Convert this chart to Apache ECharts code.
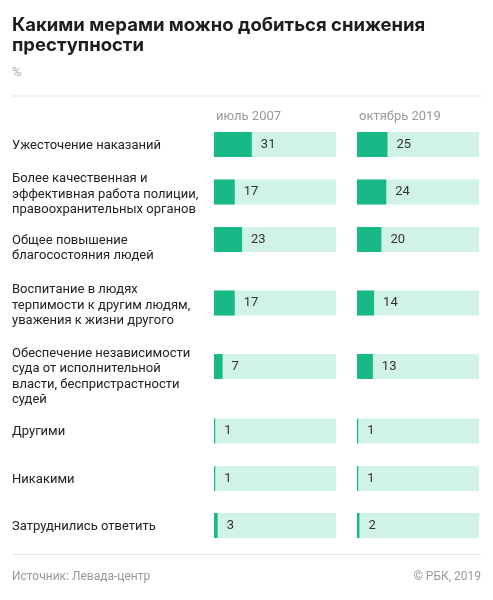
<!DOCTYPE html>
<html>
<head>
<meta charset="utf-8">
<script src="https://cdn.jsdelivr.net/npm/echarts@6/dist/echarts.min.js"></script>
<style>
  html, body { margin: 0; padding: 0; background: #fff; }
  #chart { width: 493px; height: 600px; }
</style>
</head>
<body>
<div id="chart"></div>
<script>
// data
var title = 'Какими мерами можно добиться снижения\nпреступности';
var unit = '%';
var periods = ['июль 2007', 'октябрь 2019'];
var categories = [
    'Ужесточение наказаний',
    'Более качественная и\nэффективная работа полиции,\nправоохранительных органов',
    'Общее повышение\nблагосостояния людей',
    'Воспитание в людях\nтерпимости к другим людям,\nуважения к жизни другого',
    'Обеспечение независимости\nсуда от исполнительной\nвласти, беспристрастности\nсудей',
    'Другими',
    'Никакими',
    'Затруднились ответить'
];
var values2007 = [31, 17, 23, 17, 7, 1, 1, 3];
var values2019 = [25, 24, 20, 14, 13, 1, 1, 2];
var source = 'Источник: Левада-центр';
var credit = '© РБК, 2019';
var axisMax = 100;

// layout
var rowCenters = [144.5, 192, 239.5, 303, 366.5, 431, 478.5, 525.5];
var colLeft = [214, 357];
var colWidth = 122;
var barHeight = 25;
var lineHeight = 15.5;
var font = 'Roboto, "Noto Sans", sans-serif';

var columns = [values2007, values2019];
var grids = [], xAxes = [], yAxes = [], series = [];

columns.forEach(function (vals, j) {
    vals.forEach(function (v, i) {
        var k = grids.length;
        grids.push({
            left: colLeft[j],
            width: colWidth,
            top: rowCenters[i] - barHeight / 2,
            height: barHeight,
            containLabel: false
        });
        xAxes.push({ type: 'value', gridIndex: k, min: 0, max: axisMax, show: false });
        yAxes.push({ type: 'category', gridIndex: k, data: [categories[i]], show: false });
        series.push({
            type: 'bar',
            xAxisIndex: k,
            yAxisIndex: k,
            data: [v],
            barWidth: barHeight,
            silent: true,
            showBackground: true,
            backgroundStyle: { color: '#d1f2e7' },
            itemStyle: { color: '#17b987' },
            label: {
                show: true,
                position: 'right',
                distance: 9,
                color: '#333',
                fontSize: 13,
                fontFamily: font
            }
        });
    });
});

var graphics = [
    {
        type: 'text', x: 12, y: 15,
        style: { text: title, font: 'bold 18.5px Inter, Roboto, sans-serif', fill: '#1e1e1e', lineHeight: 20, verticalAlign: 'top' }
    },
    {
        type: 'text', x: 12, y: 73,
        style: { text: unit, font: '13px ' + font, fill: '#aaa', verticalAlign: 'middle' }
    },
    { type: 'rect', shape: { x: 12, y: 95.5, width: 469, height: 1 }, style: { fill: '#e6e6e6' } },
    { type: 'rect', shape: { x: 12, y: 554, width: 469, height: 1 }, style: { fill: '#e6e6e6' } },
    {
        type: 'text', x: 12, y: 577,
        style: { text: source, font: '12px ' + font, fill: '#999', verticalAlign: 'middle' }
    },
    {
        type: 'text', x: 481, y: 577,
        style: { text: credit, font: '12px ' + font, fill: '#999', align: 'right', verticalAlign: 'middle' }
    }
];

periods.forEach(function (p, j) {
    graphics.push({
        type: 'text', x: colLeft[j] + 2, y: 117,
        style: { text: p, font: '13px ' + font, fill: '#999', verticalAlign: 'middle' }
    });
});

categories.forEach(function (c, i) {
    var lines = c.split('\n').length;
    var firstLine = lines >= 3 ? rowCenters[i] - 13 : rowCenters[i] + 1;
    graphics.push({
        type: 'text', x: 12, y: firstLine - lineHeight / 2,
        style: { text: c, font: '13px ' + font, fill: '#222', lineHeight: lineHeight, verticalAlign: 'top' }
    });
});

var myChart = echarts.init(document.getElementById('chart'));
myChart.setOption({
    animation: false,
    backgroundColor: '#fff',
    grid: grids,
    xAxis: xAxes,
    yAxis: yAxes,
    series: series,
    graphic: graphics
});
window.addEventListener('resize', function () {
    myChart.resize();
});
</script>
</body>
</html>
